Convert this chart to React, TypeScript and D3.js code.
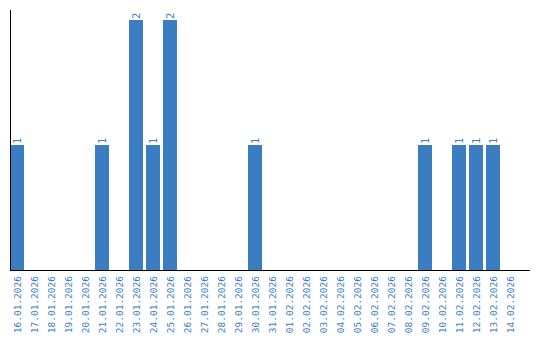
import React from "react";
import * as d3 from "d3";

const categories = [
  "16.01.2026","17.01.2026","18.01.2026","19.01.2026","20.01.2026","21.01.2026","22.01.2026","23.01.2026","24.01.2026","25.01.2026",
  "26.01.2026","27.01.2026","28.01.2026","29.01.2026","30.01.2026","31.01.2026","01.02.2026","02.02.2026","03.02.2026","04.02.2026",
  "05.02.2026","06.02.2026","07.02.2026","08.02.2026","09.02.2026","10.02.2026","11.02.2026","12.02.2026","13.02.2026","14.02.2026",
];
const values = [1,0,0,0,0,1,0,2,1,2, 0,0,0,0,1,0,0,0,0,0, 0,0,0,0,1,0,1,1,1,0];

const W = 540, H = 340;
const left = 10, right = 517, top = 20, bottom = 270;
const color = "#3b7dc1";
const font = "'DejaVu Sans Mono', monospace";

export default function App() {
  const x = d3.scaleBand<string>().domain(categories).range([left, right]).paddingInner(3 / 17).paddingOuter(0).align(0);
  const y = d3.scaleLinear().domain([0, 2]).range([bottom, top]);
  const bw = x.bandwidth();
  return (
    <svg width={W} height={H} style={{ position: "absolute", left: 0, top: 0 }}>
      {categories.map((c, i) => values[i] > 0 ? (
        <rect key={c} x={x(c)} y={y(values[i])} width={bw} height={bottom - y(values[i])} fill={color} />
      ) : null)}
      {categories.map((c, i) => values[i] > 0 ? (
        <text key={"v" + c} transform={`translate(${(x(c) as number) + bw / 2 + 3.5},${y(values[i]) - 1}) rotate(-90)`}
          fontFamily={font} fontSize={10.5} fill={color} textAnchor="start">{values[i]}</text>
      ) : null)}
      <line x1={left + 0.5} x2={left + 0.5} y1={10} y2={bottom} stroke="#000" strokeWidth={1} />
      <line x1={left} x2={530} y1={bottom + 0.5} y2={bottom + 0.5} stroke="#000" strokeWidth={1} />
      {categories.map((c) => (
        <text key={"t" + c} transform={`translate(${(x(c) as number) + bw / 2 + 3.5},${bottom + 6}) rotate(-90)`}
          fontFamily={font} fontSize={9.5} fill={color} textAnchor="end">{c}</text>
      ))}
    </svg>
  );
}
